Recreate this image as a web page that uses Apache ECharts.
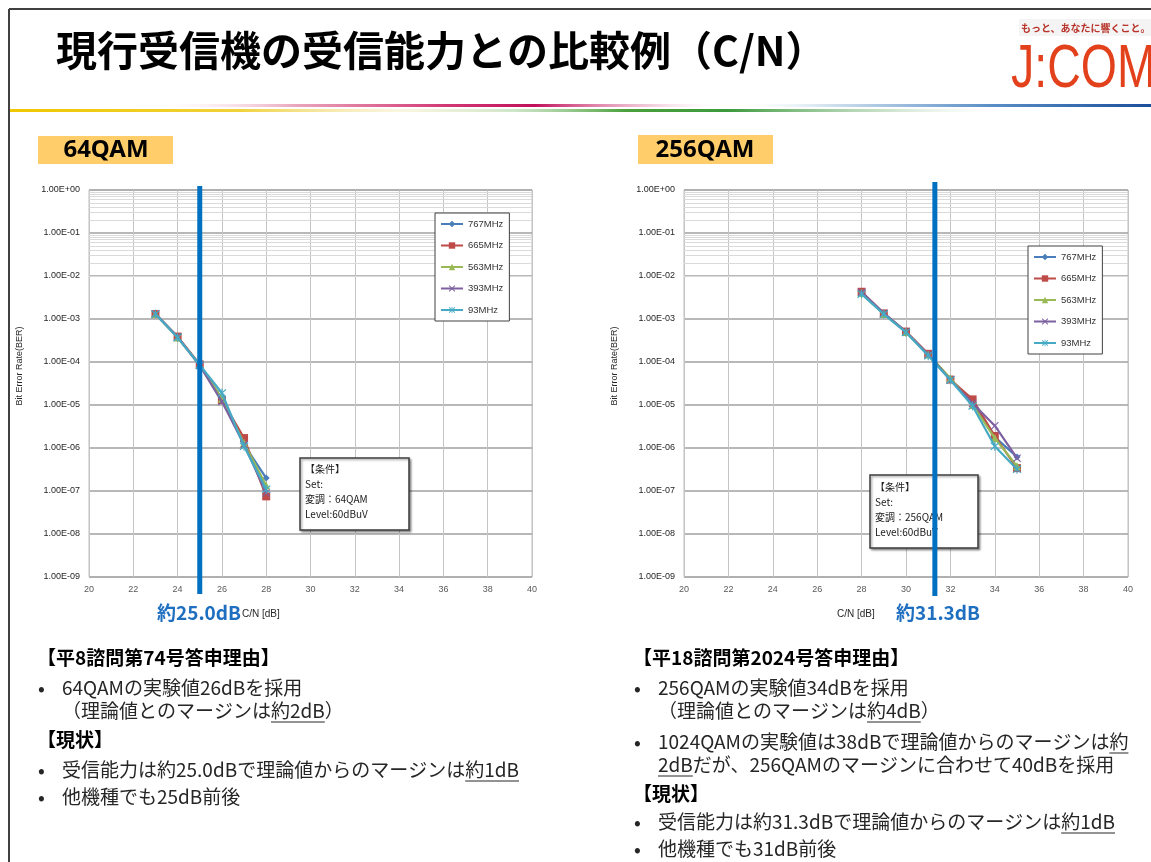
<!DOCTYPE html>
<html><head><meta charset="utf-8">
<script src="https://cdn.jsdelivr.net/npm/echarts@6/dist/echarts.min.js"></script>
<style>html,body{margin:0;padding:0;background:#fff}#c{width:1151px;height:862px}</style>
</head><body><div id="c"></div>
<script>
// ---------- data ----------
const freqNames = ['767MHz','665MHz','563MHz','393MHz','93MHz'];
const berTickLabels = ['1.00E+00','1.00E-01','1.00E-02','1.00E-03','1.00E-04','1.00E-05','1.00E-06','1.00E-07','1.00E-08','1.00E-09'];

const cn64 = [23,24,25,26,27,28];
const ber64_767 = [1.3e-3, 3.8e-4, 8.5e-5, 1.4e-5, 1.2e-6, 2.0e-7];
const ber64_665 = [1.3e-3, 3.9e-4, 8.8e-5, 1.3e-5, 1.7e-6, 7.5e-8];
const ber64_563 = [1.3e-3, 3.7e-4, 8.5e-5, 1.4e-5, 1.3e-6, 1.35e-7];
const ber64_393 = [1.3e-3, 3.8e-4, 8.3e-5, 1.2e-5, 1.2e-6, 9.0e-8];
const ber64_93  = [1.3e-3, 3.7e-4, 8.5e-5, 1.9e-5, 1.1e-6, 1.1e-7];

const cn256 = [28,29,30,31,32,33,34,35];
const ber256_767 = [4.0e-3, 1.35e-3, 5.0e-4, 1.5e-4, 3.9e-5, 1.1e-5, 1.8e-6, 6.2e-7];
const ber256_665 = [4.3e-3, 1.35e-3, 5.1e-4, 1.55e-4, 3.9e-5, 1.35e-5, 1.9e-6, 3.4e-7];
const ber256_563 = [4.0e-3, 1.3e-3, 5.0e-4, 1.5e-4, 4.2e-5, 1.0e-5, 1.7e-6, 3.8e-7];
const ber256_393 = [4.2e-3, 1.35e-3, 5.0e-4, 1.5e-4, 3.8e-5, 1.1e-5, 3.3e-6, 5.8e-7];
const ber256_93  = [3.8e-3, 1.3e-3, 4.9e-4, 1.4e-4, 3.8e-5, 9.5e-6, 1.1e-6, 3.2e-7];

const threshold64 = 25.0;
const threshold256 = 31.3;

// ---------- styles ----------
const colors = ['#4a7ebb','#be4b48','#98b954','#7d60a0','#46aac5'];
const symX = 'path://M0,1L1,0L5,4L9,0L10,1L6,5L10,9L9,10L5,6L1,10L0,9L4,5Z';
const symStar = 'path://M0,1L1,0L5,4L9,0L10,1L6,5L10,9L9,10L5,6L1,10L0,9L4,5Z M4.4,-0.5L5.6,-0.5L5.6,10.5L4.4,10.5Z';
const symbols = ['diamond','rect','triangle',symX,symStar];
const symSizes = [7,8,8,8,9];
const JP = '"Noto Sans CJK JP"';
const AX = '"Liberation Sans", "Noto Sans", sans-serif';

const chart = echarts.init(document.getElementById('c'), null, {renderer:'canvas'});

function mkSeries(gi, xs, ysList) {
  const arr = ysList.map((ys, k) => ({
    type:'line', name: freqNames[k], xAxisIndex: gi, yAxisIndex: gi,
    data: xs.map((x,i)=>[x, ys[i]]),
    symbol: symbols[k], symbolSize: symSizes[k],
    lineStyle:{width:2.2, color: colors[k]},
    itemStyle:{color: colors[k]},
    z: 3 + k, animation:false
  }));
  // minor log gridlines (2..9 within each decade)
  const minor = [];
  for (let e = -9; e < 0; e++) for (let f = 2; f <= 9; f++) minor.push({yAxis: f * Math.pow(10, e)});
  arr.unshift({
    type:'line', xAxisIndex: gi, yAxisIndex: gi, data: [], z:1, silent:true, animation:false,
    markLine:{z:1, silent:true, symbol:['none','none'], label:{show:false}, animation:false,
      lineStyle:{color:'#dadada', width:1, type:'solid'}, emphasis:{disabled:true}, data: minor}
  });
  return arr;
}

function xAxisCfg(gi){
  return {type:'value', gridIndex:gi, min:20, max:40, interval:2,
    axisLine:{show:false}, axisTick:{show:false},
    axisLabel:{fontSize:9, color:'#595959', margin:8, fontFamily:AX},
    splitLine:{show:true, lineStyle:{color:'#c4c4c4', width:1}}};
}
function yAxisCfg(gi){
  return {type:'log', gridIndex:gi, min:1e-9, max:1, logBase:10,
    axisLine:{show:false}, axisTick:{show:false},
    axisLabel:{fontSize:9, color:'#262626', margin:9, fontFamily:AX,
      formatter: v => berTickLabels[-Math.round(Math.log10(v))] || ''},
    splitLine:{show:true, lineStyle:{color:'#a0a0a0', width:1.5}}};
}
function legendCfg(left, top){
  return {data: freqNames, orient:'vertical', left, top, z:20, itemWidth:22, itemHeight:8, itemGap:11.5,
    padding:[6,6,6,5], borderColor:'#404040', borderWidth:1, backgroundColor:'#fff',
    selectedMode:false, textStyle:{fontSize:9.5, color:'#333', fontFamily:AX}};
}

// ---------- graphic (slide decoration & texts) ----------
const els = [];
const T = (x, y, text, font, fill, align, extra) => els.push(Object.assign({type:'text', x, y, z:10,
  style:{text, font, fill, align: align||'left', verticalAlign:'middle', textAlign: align||'left', textVerticalAlign:'middle'}}, extra||{}));

// frame
els.push({type:'line', z:10, shape:{x1:9,y1:9,x2:1151,y2:9}, style:{stroke:'#404040', lineWidth:2}});
els.push({type:'line', z:10, shape:{x1:9,y1:9,x2:9,y2:862}, style:{stroke:'#404040', lineWidth:2}});
// gradient rules
els.push({type:'rect', z:10, shape:{x:10,y:104,width:1141,height:3}, style:{fill: new echarts.graphic.LinearGradient(0,0,1,0,[
  {offset:0,color:'rgba(255,255,255,0)'},{offset:0.12,color:'rgba(255,255,255,0)'},{offset:0.25,color:'#eaa6bd'},
  {offset:0.38,color:'#d23a74'},{offset:0.46,color:'#c0105a'},{offset:0.56,color:'rgba(225,140,175,0.45)'},
  {offset:0.63,color:'rgba(255,255,255,0)'},{offset:0.72,color:'#cfe0ee'},{offset:0.86,color:'#5a8ec6'},{offset:1,color:'#1a4f9c'}])}});
els.push({type:'rect', z:10, shape:{x:10,y:109,width:1141,height:3}, style:{fill: new echarts.graphic.LinearGradient(0,0,1,0,[
  {offset:0,color:'#efc700'},{offset:0.2,color:'#f1d13a'},{offset:0.34,color:'rgba(240,228,170,0.35)'},
  {offset:0.44,color:'rgba(160,205,150,0.5)'},{offset:0.54,color:'#4aa03a'},{offset:0.63,color:'#3c9a3c'},
  {offset:0.77,color:'rgba(130,185,130,0.4)'},{offset:0.88,color:'rgba(255,255,255,0)'},{offset:1,color:'rgba(255,255,255,0)'}])}});
// title
T(56, 50, '現行受信機の受信能力との比較例（C/N）', 'bold 41px ' + JP, '#000');
// logo
els.push({type:'rect', z:9, shape:{x:1019,y:19,width:132,height:17}, style:{fill:'#f4f4f4'}});
T(1021, 28, 'もっと、あなたに響くこと。', 'bold 10px ' + JP, '#b8332a');
T(1011, 70, 'J:COM', '62px "Liberation Sans"', '#e2411c', 'left', {scaleX:0.75});
// section labels
els.push({type:'rect', z:10, shape:{x:38,y:136,width:135,height:28}, style:{fill:'#ffcd6a'}});
T(106, 150, '64QAM', 'bold 24px "Noto Sans"', '#000', 'center');
els.push({type:'rect', z:10, shape:{x:638,y:135,width:135,height:29}, style:{fill:'#ffcd6a'}});
T(705, 150, '256QAM', 'bold 24px "Noto Sans"', '#000', 'center');
// axis names
T(20, 366, 'Bit Error Rate(BER)', '9px ' + AX, '#262626', 'center', {rotation: Math.PI/2});
T(615, 366, 'Bit Error Rate(BER)', '9px ' + AX, '#262626', 'center', {rotation: Math.PI/2});
T(242, 614, 'C/N [dB]', '10px ' + AX, '#262626');
T(837, 614, 'C/N [dB]', '10px ' + AX, '#262626');
T(157, 613, '約25.0dB', 'bold 19px ' + JP, '#1f6fc0');
T(896, 613, '約31.3dB', 'bold 19px ' + JP, '#1f6fc0');
// condition boxes
function condBox(x, y, w, h, tx, ty, mod){
  els.push({type:'rect', z:20, shape:{x,y,width:w,height:h},
    style:{fill:'#fff', stroke:'#3c3c3c', lineWidth:1.5, shadowBlur:2, shadowOffsetX:1.5, shadowOffsetY:1.5, shadowColor:'rgba(0,0,0,0.35)'}});
  const lines = ['【条件】','Set:','変調：' + mod,'Level:60dBuV'];
  lines.forEach((s,i)=>els.push({type:'text', x:tx, y:ty + i*15, z:21,
    style:{text:s, font:'10px ' + JP, fill:'#1a1a1a', align:'left', verticalAlign:'middle', textAlign:'left', textVerticalAlign:'middle'}}));
}
condBox(300, 458, 109, 72, 305, 469, '64QAM');
condBox(870, 475, 108, 73, 875, 487, '256QAM');

// bottom texts
const mctx = document.createElement('canvas').getContext('2d');
function textLine(x, y, parts, bold, bulletX){
  const font = (bold ? 'bold ' : '') + '19px ' + JP;
  const fill = bold ? '#000' : '#262626';
  mctx.font = font;
  const full = parts.map(p=>p[0]).join('');
  els.push({type:'text', x, y, z:10, style:{text:full, font, fill, align:'left', verticalAlign:'middle', textAlign:'left', textVerticalAlign:'middle'}});
  let cx = x;
  parts.forEach(p=>{
    const w = mctx.measureText(p[0]).width;
    if (p[1]) els.push({type:'line', z:10, shape:{x1:cx, y1:y+11, x2:cx+w, y2:y+11}, style:{stroke:fill, lineWidth:1}});
    cx += w;
  });
  if (bulletX != null) els.push({type:'text', x:bulletX, y, z:10, style:{text:'•', font:'bold 18px ' + JP, fill:'#262626', align:'left', verticalAlign:'middle', textAlign:'left', textVerticalAlign:'middle'}});
}
textLine(37, 658, [['【平8諮問第74号答申理由】']], true);
textLine(62, 688, [['64QAMの実験値26dBを採用']], false, 38);
textLine(62, 711, [['（理論値とのマージンは'],['約2dB',1],['）']], false);
textLine(37, 740, [['【現状】']], true);
textLine(62, 770, [['受信能力は約25.0dBで理論値からのマージンは'],['約1dB',1]], false, 38);
textLine(62, 797, [['他機種でも25dB前後']], false, 38);

textLine(633, 658, [['【平18諮問第2024号答申理由】']], true);
textLine(658, 688, [['256QAMの実験値34dBを採用']], false, 634);
textLine(658, 711, [['（理論値とのマージンは'],['約4dB',1],['）']], false);
textLine(658, 742, [['1024QAMの実験値は38dBで理論値からのマージンは'],['約',1]], false, 634);
textLine(658, 765, [['2dB',1],['だが、256QAMのマージンに合わせて40dBを採用']], false);
textLine(633, 794, [['【現状】']], true);
textLine(658, 822, [['受信能力は約31.3dBで理論値からのマージンは'],['約1dB',1]], false, 634);
textLine(658, 849, [['他機種でも31dB前後']], false, 634);

// ---------- option ----------
const option = {
  animation:false,
  backgroundColor:'#fff',
  grid:[
    {left:89, top:190, width:443, height:387, show:true, borderColor:'#bfbfbf', borderWidth:1, backgroundColor:'#fff'},
    {left:684, top:190, width:444, height:387, show:true, borderColor:'#bfbfbf', borderWidth:1, backgroundColor:'#fff'}
  ],
  xAxis:[xAxisCfg(0), xAxisCfg(1)],
  yAxis:[yAxisCfg(0), yAxisCfg(1)],
  legend:[legendCfg(435, 213), legendCfg(1028, 246)],
  series:[].concat(
    mkSeries(0, cn64, [ber64_767, ber64_665, ber64_563, ber64_393, ber64_93]),
    mkSeries(1, cn256, [ber256_767, ber256_665, ber256_563, ber256_393, ber256_93])
  ),
  graphic:{elements: els}
};
chart.setOption(option);

// threshold lines placed through the axis scales
const xL = chart.convertToPixel({xAxisIndex:0}, threshold64);
const xR = chart.convertToPixel({xAxisIndex:1}, threshold256);
els.push({type:'line', z:100, shape:{x1:xL, y1:186, x2:xL, y2:594}, style:{stroke:'#0070c0', lineWidth:5}});
els.push({type:'line', z:100, shape:{x1:xR, y1:182, x2:xR, y2:596}, style:{stroke:'#0070c0', lineWidth:5}});
option.graphic = {elements: els};
chart.setOption(option, true);
</script></body></html>
